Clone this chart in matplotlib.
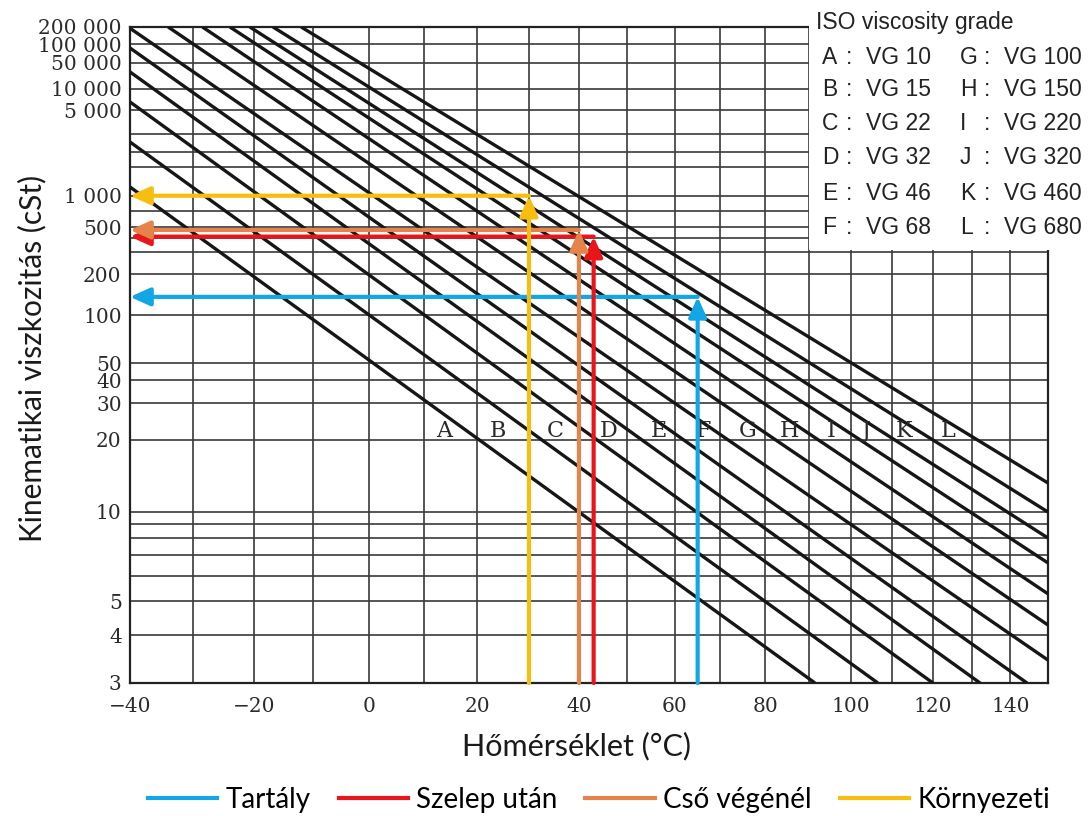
import numpy as np
import matplotlib
matplotlib.use('Agg')
import matplotlib.pyplot as plt
from matplotlib.patches import Rectangle
from matplotlib.lines import Line2D

# ISO grade lines, end points (temperature in C, viscosity in cSt)
grades = ['A', 'B', 'C', 'D', 'E', 'F', 'G', 'H', 'I', 'J', 'K', 'L']
vg = [10, 15, 22, 32, 46, 68, 100, 150, 220, 320, 460, 680]
t_start = [-40, -40, -40, -40, -40, -40, -34.0, -28.5, -24.0, -20.7, -16.8, -12.0]
v_start = [1230, 3950, 13090, 35940, 86850, 190000, 200000, 200000, 200000, 200000, 200000, 200000]
t_end = [91.5, 106.5, 120.1, 132.1, 144.4, 150, 150, 150, 150, 150, 150, 150]
v_end = [3, 3, 3, 3, 3, 3.43, 4.27, 5.27, 6.60, 8.02, 9.97, 12.95]

# where the grade letters sit
label_t = [13.7, 24.0, 35.2, 46.2, 56.7, 66.3, 76.0, 85.5, 95.3, 103.7, 113.0, 124.0]
label_v = 22

# operating points (temperature, viscosity)
points = ['Tartály', 'Szelep után', 'Cső végénél', 'Környezeti']
point_t = [65, 43, 40, 30]
point_v = [135, 410, 470, 1000]
point_colors = ['#12A6E6', '#E8161B', '#E4844A', '#F6BE0E']

# axis grid and tick labels as printed on the chart
x_grid = [-40, -30, -20, -10, 0, 10, 20, 30, 40, 50, 60, 70, 80, 90, 100, 110, 120, 130, 140, 150]
x_labeled = [-40, -20, 0, 20, 40, 60, 80, 100, 120, 140]
y_grid = [3, 4, 5, 6, 7, 8, 9, 10, 20, 30, 40, 50, 100, 200, 300, 400, 500, 700,
          1000, 2000, 3000, 5000, 10000, 20000, 50000, 100000, 200000]
y_text = {3: '3', 4: '4', 5: '5', 10: '10', 20: '20', 30: '30', 40: '40', 50: '50',
          100: '100', 200: '200', 500: '500', 1000: '1 000', 10000: '5 000',
          20000: '10 000', 50000: '50 000', 100000: '100 000', 200000: '200 000'}


# chart scales: log of shifted temperature, Walther-type log-log for viscosity
def t_fwd(t):
    return np.log10(np.asarray(t, dtype=float) + 300.0)

def t_inv(u):
    return 10 ** np.asarray(u, dtype=float) - 300.0

def v_fwd(v):
    with np.errstate(all='ignore'):
        return np.log10(np.log10(np.asarray(v, dtype=float) + 0.8))

def v_inv(w):
    return 10 ** (10 ** np.asarray(w, dtype=float)) - 0.8


W, H = 1088, 816
fig = plt.figure(figsize=(W / 100, H / 100), dpi=100)
ax = fig.add_axes([130 / W, (H - 683) / H, 918 / W, 656 / H])
ax.set_xscale('function', functions=(t_fwd, t_inv))
ax.set_yscale('function', functions=(v_fwd, v_inv))

serif = 'DejaVu Serif'
sans = ['Lato', 'DejaVu Sans']

for i in range(len(grades)):
    ax.plot([t_start[i], t_end[i]], [v_start[i], v_end[i]], color='#161616', lw=2.4,
            solid_capstyle='butt', zorder=3)
    ax.text(label_t[i], label_v, grades[i], ha='center', va='center', family=serif,
            fontsize=16, color='#2a2a2a', zorder=4)

arrow = dict(arrowstyle='-|>,head_length=0.6,head_width=0.27', lw=3, shrinkA=0,
             shrinkB=0, mutation_scale=20)
for t, v, c in zip(point_t, point_v, point_colors):
    ax.annotate('', xy=(t, v), xytext=(t, 3), arrowprops=dict(arrow, color=c), zorder=5)
    ax.annotate('', xy=(-40, v), xytext=(t, v), arrowprops=dict(arrow, color=c), zorder=5)

ax.set_xlim(-40, 150)
ax.set_ylim(3, 200000)
ax.set_xticks(x_grid)
ax.set_xticklabels([str(t).replace('-', '\u2212') if t in x_labeled else '' for t in x_grid])
ax.set_yticks(y_grid)
ax.set_yticklabels([y_text.get(v, '') for v in y_grid])
ax.minorticks_off()
ax.grid(True, color='#3a3a3a', lw=1.2, zorder=1)
ax.tick_params(length=0, labelsize=14.5, labelcolor='#2b2b2b')
ax.tick_params(axis='x', pad=10)
ax.tick_params(axis='y', pad=6)
for lab in ax.get_xticklabels() + ax.get_yticklabels():
    lab.set_family(serif)
for s in ax.spines.values():
    s.set_linewidth(1.6)
    s.set_color('#222222')

ax.set_ylabel('Kinematikai viszkozitás (cSt)', family=sans, fontsize=21.5, color='#1a1a1a')
ax.yaxis.set_label_coords(-0.0915, 0.495)
ax.set_xlabel('Hőmérséklet (°C)', family=sans, fontsize=22, color='#1a1a1a')
ax.xaxis.set_label_coords(0.486, -0.074)

# white panel with the grade key, covering the upper right of the grid
fig.add_artist(Rectangle((809 / W, (H - 250) / H), 1 - 809 / W, 250 / H,
                         transform=fig.transFigure, facecolor='white', edgecolor='none', zorder=2))
key = dict(family='Liberation Sans', fontsize=16.5, color='#222222', va='center', zorder=3)
fig.text(816 / W, 1 - 23 / H, 'ISO viscosity grade', ha='left', **key)
row_y = [57, 90, 124, 158, 193, 228]
for r, y in enumerate(row_y):
    yf = 1 - y / H
    for col, x0 in enumerate([822, 960]):
        g = r + 6 * col
        fig.text(x0 / W, yf, grades[g], ha='left', **key)
        fig.text((x0 + 27) / W, yf, ':', ha='center', **key)
        fig.text((x0 + 44) / W, yf, 'VG %d' % vg[g], ha='left', **key)

handles = [Line2D([], [], color=c, lw=3) for c in point_colors]
fig.legend(handles, points, loc='center', bbox_to_anchor=(0.5506, 0.0196), ncol=4,
           frameon=False, prop=dict(family=sans, size=20), handlelength=2.5,
           handletextpad=0.3, columnspacing=1.0, borderpad=0)

fig.savefig('out.png', dpi=100)
